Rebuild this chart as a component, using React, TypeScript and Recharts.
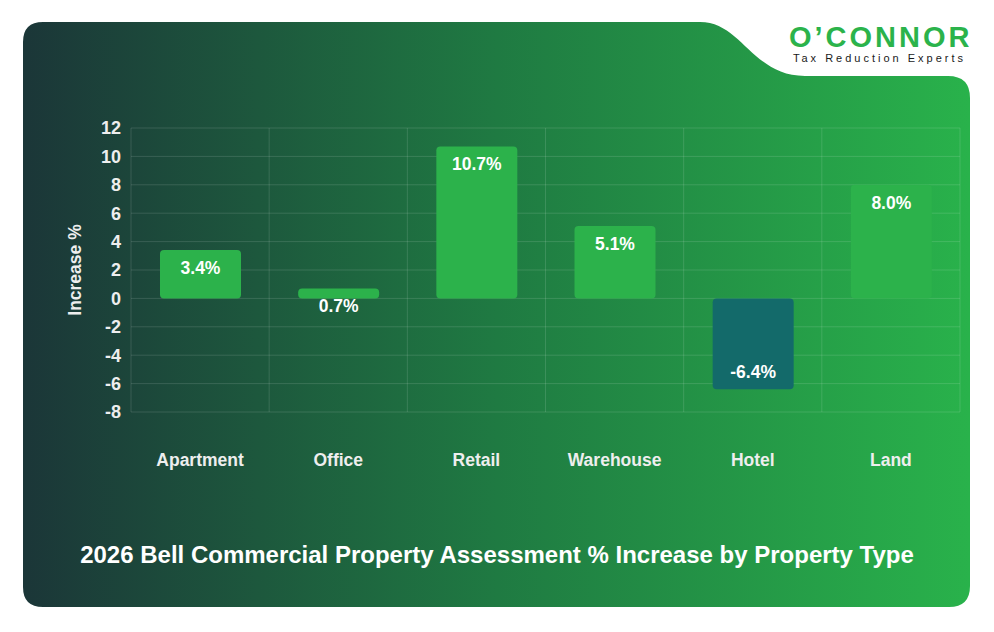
import React from "react";
import { Bar, BarChart, CartesianGrid, Cell, LabelList, XAxis, YAxis } from "recharts";

const categories = ["Apartment", "Office", "Retail", "Warehouse", "Hotel", "Land"];
const increases = [3.4, 0.7, 10.7, 5.1, -6.4, 8.0];
const yTicks = [-8, -6, -4, -2, 0, 2, 4, 6, 8, 10, 12];

const data = categories.map((name, i) => ({ name, value: increases[i] }));

const FONT = "'Liberation Sans', Arial, sans-serif";
const TEXT = "#eeeeee";

const BarValueLabel = ({ x, y, width, height, value }: any) => {
    const top = Math.min(y, y + height);
    const bottom = Math.max(y, y + height);
    const ly = value >= 0 ? top + 18 : bottom - 17;
    return (
        <text
            x={x + width / 2}
            y={ly}
            textAnchor="middle"
            dominantBaseline="central"
            fill="#ffffff"
            fontSize={17.5}
            fontWeight="bold"
            fontFamily={FONT}
        >
            {`${Number(value).toFixed(1)}%`}
        </text>
    );
};

const CategoryTick = ({ x, y, payload }: any) => (
    <text x={x} y={y + 46} textAnchor="middle" fill={TEXT} fontSize={17.5} fontWeight="bold" fontFamily={FONT}>
        {payload.value}
    </text>
);

const App = () => {
    return (
        <div style={{ position: "absolute", left: 0, top: 0, width: 994, height: 632, background: "#fff", overflow: "hidden" }}>
            <svg width={994} height={632} style={{ position: "absolute", left: 0, top: 0 }}>
                <defs>
                    <linearGradient id="card" x1="0" y1="0" x2="1" y2="0">
                        <stop offset="0%" stopColor="#1b3638" />
                        <stop offset="50%" stopColor="#1f7a42" />
                        <stop offset="100%" stopColor="#29b24b" />
                    </linearGradient>
                </defs>
                <path
                    d="M43,22 L700,22 C742,22 752,76 805,76 L948,76 Q970,76 970,98 L970,586 Q970,607 949,607 L43,607 Q23,607 23,587 L23,42 Q23,22 43,22 Z"
                    fill="url(#card)"
                />
            </svg>

            <div style={{ position: "absolute", left: 789, top: 24, fontFamily: FONT, fontWeight: "bold", fontSize: 29, letterSpacing: 3, color: "#2bb34b", lineHeight: "26px" }}>
                O’CONNOR
            </div>
            <div style={{ position: "absolute", left: 793, top: 51, fontFamily: FONT, fontSize: 11, letterSpacing: 3, color: "#1a1a1a", lineHeight: "14px" }}>
                Tax Reduction Experts
            </div>

            <div style={{ position: "absolute", left: 0, top: 0 }}>
                <BarChart width={994} height={632} data={data} margin={{ top: 128, right: 34, left: 51, bottom: 160 }}>
                    <CartesianGrid
                        stroke="rgba(255,255,255,0.13)"
                        verticalCoordinatesGenerator={({ offset }: any) =>
                            categories.map((_, i) => offset.left + (i * offset.width) / categories.length).concat(offset.left + offset.width)
                        }
                    />
                    <XAxis dataKey="name" axisLine={false} tickLine={false} height={60} tick={<CategoryTick />} interval={0} />
                    <YAxis
                        width={80}
                        domain={[-8, 12]}
                        ticks={yTicks}
                        interval={0}
                        axisLine={false}
                        tickLine={false}
                        tickMargin={4}
                        tick={{ fill: TEXT, fontSize: 18, fontWeight: "bold", fontFamily: FONT }}
                        label={{ value: "Increase %", angle: -90, position: "center", dx: -16, fill: TEXT, fontSize: 17.5, fontWeight: "bold", fontFamily: FONT }}
                    />
                    <Bar dataKey="value" barSize={81} radius={4} isAnimationActive={false}>
                        {data.map((d, i) => (
                            <Cell key={`cell-${i}`} fill={d.value < 0 ? "#136a6a" : "#2cb24b"} />
                        ))}
                        <LabelList dataKey="value" content={<BarValueLabel />} />
                    </Bar>
                </BarChart>
            </div>

            <div style={{ position: "absolute", left: 0, width: 994, top: 540, textAlign: "center", fontFamily: FONT, fontWeight: "bold", fontSize: 24, color: "#fff", lineHeight: "30px" }}>
                2026 Bell Commercial Property Assessment % Increase by Property Type
            </div>
        </div>
    );
};

export default App;
